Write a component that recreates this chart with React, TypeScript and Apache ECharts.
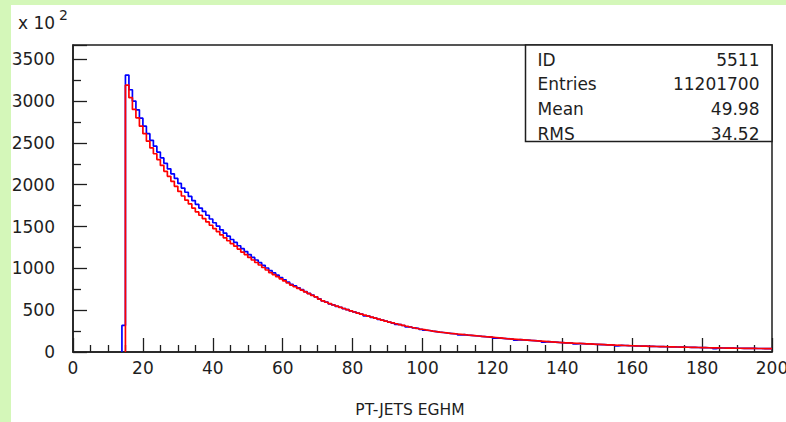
import React, { useEffect, useRef } from "react";
import * as echarts from "echarts";

// Histogram: 1-unit bins, first bin starts at x = 14
const binStart = 14;

// red histogram, bins 14..199 (rows of 10)
const redCounts = [
  0, 3190, 3040, 2900, 2800, 2700, 2610, 2520, 2440, 2370,
  2300, 2230, 2160, 2100, 2040, 1980, 1920, 1865, 1815, 1770,
  1720, 1675, 1635, 1595, 1555, 1515, 1475, 1440, 1400, 1365,
  1330, 1295, 1265, 1230, 1195, 1165, 1130, 1100, 1070, 1040,
  1010, 980, 950, 925, 900, 875, 850, 825, 800, 780,
  760, 740, 718, 698, 678, 658, 632, 612, 595, 578,
  562, 548, 534, 520, 506, 492, 478, 465, 452, 440,
  428, 416, 404, 392, 380, 369, 358, 348, 338, 328,
  318, 308, 299, 290, 281, 272, 264, 257, 250, 244,
  238, 233, 228, 223, 219, 215, 211, 207, 203, 199,
  195, 191, 187, 183, 180, 177, 173, 169, 165, 161,
  158, 155, 152, 149, 146, 143, 140, 137, 134, 131,
  128, 125, 122, 119, 116, 113, 110, 108, 106, 104,
  102, 100, 98, 96, 94, 92, 90, 88, 86, 85,
  83, 81, 80, 78, 77, 75, 74, 72, 71, 70,
  68, 67, 66, 65, 64, 63, 62, 61, 60, 59,
  58, 57, 56, 55, 54, 53, 52, 51, 50, 50,
  49, 48, 47, 47, 46, 45, 45, 44, 44, 43,
  43, 42, 42, 41, 41, 40,
];

// blue histogram, bins 14..199 (rows of 10)
const blueCounts = [
  318, 3310, 3135, 3000, 2895, 2795, 2700, 2610, 2530, 2460,
  2390, 2320, 2255, 2190, 2130, 2075, 2015, 1960, 1910, 1860,
  1810, 1765, 1720, 1680, 1635, 1590, 1545, 1505, 1460, 1420,
  1385, 1345, 1310, 1270, 1235, 1200, 1165, 1130, 1100, 1068,
  1036, 1004, 972, 945, 918, 890, 864, 836, 810, 790,
  768, 746, 722, 700, 680, 660, 634, 610, 596, 576,
  563, 546, 535, 518, 507, 490, 479, 464, 452, 432,
  428, 415, 404, 391, 380, 368, 358, 346, 330, 328,
  317, 300, 299, 289, 281, 270, 260, 257, 249, 244,
  237, 233, 227, 223, 218, 215, 203, 207, 202, 199,
  194, 191, 186, 183, 179, 177, 166, 169, 164, 161,
  157, 155, 143, 149, 145, 143, 139, 137, 133, 131,
  118, 125, 121, 119, 115, 113, 109, 108, 105, 96,
  101, 100, 97, 96, 93, 92, 89, 88, 85, 85,
  82, 72, 79, 78, 76, 75, 73, 72, 71, 70,
  68, 67, 66, 65, 64, 63, 62, 61, 60, 59,
  58, 57, 56, 55, 54, 53, 52, 51, 50, 41,
  49, 48, 47, 47, 46, 45, 45, 44, 44, 43,
  43, 42, 42, 41, 41, 40,
];

const xRange = [0, 200];
const yRange = [0, 3670];
const statsLabels = ["ID", "Entries", "Mean", "RMS"];
const statsValues = ["5511", "11201700", "49.98", "34.52"];
const xTitle = "PT-JETS EGHM";
const yScaleText = "x 10";
const yScaleExp = "2";

const FONT = "DejaVu Sans";
const INK = "#1e1e1e";

// histogram outline: rises from zero at the first filled bin, steps across each bin
function toSteps(counts: number[]) {
  let first = counts.findIndex((v) => v > 0);
  if (first < 0) first = 0;
  const pts: number[][] = [[binStart + first, 0]];
  for (let i = first; i < counts.length; i++) pts.push([binStart + i, counts[i]]);
  pts.push([binStart + counts.length, counts[counts.length - 1]]);
  return pts;
}

export default function App() {
  const ref = useRef<HTMLDivElement>(null);
  useEffect(() => {
    document.body.style.margin = "0";
    if (!ref.current) return;
    const chart = echarts.init(ref.current, null, { renderer: "svg" });
    const tickStyle = { color: INK, width: 1.3 };
    const statsElems: any[] = [
      {
        type: "rect",
        shape: { x: 525.5, y: 45, width: 246.5, height: 96.5 },
        style: { fill: "#fff", stroke: INK, lineWidth: 1.5 },
        z: 10,
      },
    ];
    statsLabels.forEach((lab, i) => {
      const y = 59.5 + i * 24.8;
      statsElems.push({
        type: "text",
        x: 537.5,
        y,
        z: 11,
        style: { text: lab, fontFamily: FONT, fontSize: 17, fill: INK, align: "left", verticalAlign: "middle" },
      });
      statsElems.push({
        type: "text",
        x: 759.5,
        y,
        z: 11,
        style: { text: statsValues[i], fontFamily: FONT, fontSize: 17, fill: INK, align: "right", verticalAlign: "middle" },
      });
    });
    chart.setOption({
      animation: false,
      backgroundColor: "#ffffff",
      grid: {
        left: 73,
        right: 14,
        top: 45,
        bottom: 70,
        containLabel: false,
        outerBoundsMode: "none",
        show: true,
        borderColor: INK,
        borderWidth: 1.5,
        backgroundColor: "transparent",
      },
      xAxis: {
        type: "value",
        min: xRange[0],
        max: xRange[1],
        interval: 20,
        axisLine: { show: true, onZero: false, lineStyle: { color: INK, width: 1.5 } },
        axisTick: { show: true, inside: true, length: 14, lineStyle: tickStyle },
        minorTick: { show: true, splitNumber: 4, length: 7, lineStyle: tickStyle },
        splitLine: { show: false },
        axisLabel: { margin: 7, fontFamily: FONT, fontSize: 17, color: INK, hideOverlap: false },
      },
      yAxis: {
        type: "value",
        min: yRange[0],
        max: yRange[1],
        interval: 500,
        axisLine: { show: true, onZero: false, lineStyle: { color: INK, width: 1.5 } },
        axisTick: { show: true, inside: true, length: 14, lineStyle: tickStyle },
        minorTick: { show: true, splitNumber: 2, length: 8, lineStyle: tickStyle },
        splitLine: { show: false },
        axisLabel: {
          margin: 18,
          fontFamily: FONT,
          fontSize: 17,
          color: INK,
          formatter: (v: number) => (v % 500 === 0 ? String(v) : ""),
        },
      },
      series: [
        {
          type: "line",
          step: "end",
          symbol: "none",
          data: toSteps(blueCounts),
          lineStyle: { color: "#0000ff", width: 1.7 },
          z: 2,
        },
        {
          type: "line",
          step: "end",
          symbol: "none",
          data: toSteps(redCounts),
          lineStyle: { color: "#ff0000", width: 1.7 },
          z: 3,
        },
      ],
      graphic: [
        { type: "rect", shape: { x: 0, y: 0, width: 786, height: 5 }, style: { fill: "#d4f7b9" }, z: 20 },
        { type: "rect", shape: { x: 0, y: 0, width: 11, height: 422 }, style: { fill: "#d4f7b9" }, z: 20 },
        {
          type: "text",
          x: 18,
          y: 23,
          style: { text: yScaleText, fontFamily: FONT, fontSize: 17, fill: INK, align: "left", verticalAlign: "middle" },
        },
        {
          type: "text",
          x: 59,
          y: 15,
          style: { text: yScaleExp, fontFamily: FONT, fontSize: 14, fill: INK, align: "left", verticalAlign: "middle" },
        },
        {
          type: "text",
          x: 410,
          y: 410,
          style: { text: xTitle, fontFamily: FONT, fontSize: 15.5, fill: INK, align: "center", verticalAlign: "middle" },
        },
        ...statsElems,
      ],
    });
    return () => chart.dispose();
  }, []);
  return (
    <div
      ref={ref}
      style={{ position: "absolute", left: 0, top: 0, width: 786, height: 422, overflow: "hidden" }}
    />
  );
}
